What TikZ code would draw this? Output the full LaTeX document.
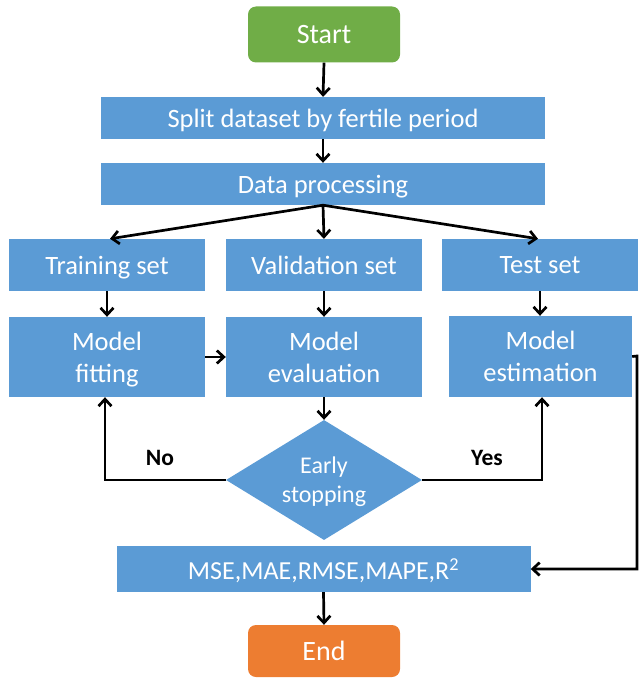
\documentclass[tikz,border=0pt]{standalone}
\usepackage{fontspec}
\setmainfont{Carlito}
\usetikzlibrary{shapes.geometric,arrows.meta,positioning,calc}
\definecolor{boxblue}{HTML}{5B9BD5}
\definecolor{boxgreen}{HTML}{70AD47}
\definecolor{boxorange}{HTML}{ED7D31}
\tikzset{
  blk/.style={fill=boxblue, draw=none, text=white, font=\fontsize{26.5}{32}\selectfont, align=center, inner sep=0pt, text depth=0pt},
  term/.style={draw=none, text=white, font=\fontsize{28}{32}\selectfont, rounded corners=8pt, inner sep=0pt, minimum width=152pt},
  arr/.style={draw=black, line width=2.7pt, -{Straight Barb[length=7pt,width=13pt,line width=2.7pt]}},
  lbl/.style={font=\bfseries\fontsize{23.5}{26}\selectfont, text=black}
}
\begin{document}
\begin{tikzpicture}[x=1pt,y=-1pt]
\useasboundingbox (0,0) rectangle (639,679);
\node[term, fill=boxgreen, minimum height=56pt] (start) at (324,34.5) {Start};
\node[blk, minimum width=444pt, minimum height=42pt] (split) at (323,118) {Split dataset by fertile period};
\node[blk, minimum width=444pt, minimum height=42pt] (data) at (323,184) {Data processing};
\node[blk, minimum width=196pt, minimum height=52pt] (train) at (107,265) {Training set};
\node[blk, minimum width=196pt, minimum height=52pt] (valid) at (324,265) {Validation set};
\node[blk, minimum width=196pt, minimum height=52pt] (test) at (540,265) {Test set};
\node[blk, minimum width=196pt, minimum height=80pt] (fit) at (107,357) {Model\\fitting};
\node[blk, minimum width=196pt, minimum height=80pt] (eval) at (324,357) {Model\\evaluation};
\node[blk, minimum width=183pt, minimum height=81pt] (est) at (540.5,356.5) {Model\\estimation};
\node[blk, diamond, minimum width=196pt, minimum height=120pt, aspect=1.63, font=\fontsize{24}{29}\selectfont] (stop) at (324,480) {Early\\stopping};
\node[blk, minimum width=414pt, minimum height=46pt, font=\fontsize{26}{31}\selectfont] (metric) at (323.5,569) {MSE,MAE,RMSE,MAPE,R\textsuperscript{2}};
\node[term, fill=boxorange, minimum height=52pt] (end) at (324,651) {End};
\coordinate (cr) at (637,356);
\draw[arr] (start.south) -- (split.north);
\draw[arr] (split.south) -- (data.north);
\draw[arr] (data.south) -- ($(train.north)+(3,0)$);
\draw[arr] (data.south) -- (valid.north);
\draw[arr] (data.south) -- ($(test.north)+(-2,0)$);
\draw[arr] (train.south) -- (fit.north);
\draw[arr] (valid.south) -- (eval.north);
\draw[arr] (test.south) -- (test.south |- est.north);
\draw[arr] (fit.east) -- (eval.west);
\draw[arr] (eval.south) -- (stop.north);
\draw[arr] (stop.west) -| ($(fit.south)+(-2,0)$);
\draw[arr] (stop.east) -| ($(est.south)+(1.5,0)$);
\draw[arr] (est.east) -- (cr) |- (metric.east);
\draw[arr] (metric.south) -- (end.north);
\node[lbl] (no) at (160,458) {No};
\node[lbl] (yes) at (487,458) {Yes};
\end{tikzpicture}
\end{document}
